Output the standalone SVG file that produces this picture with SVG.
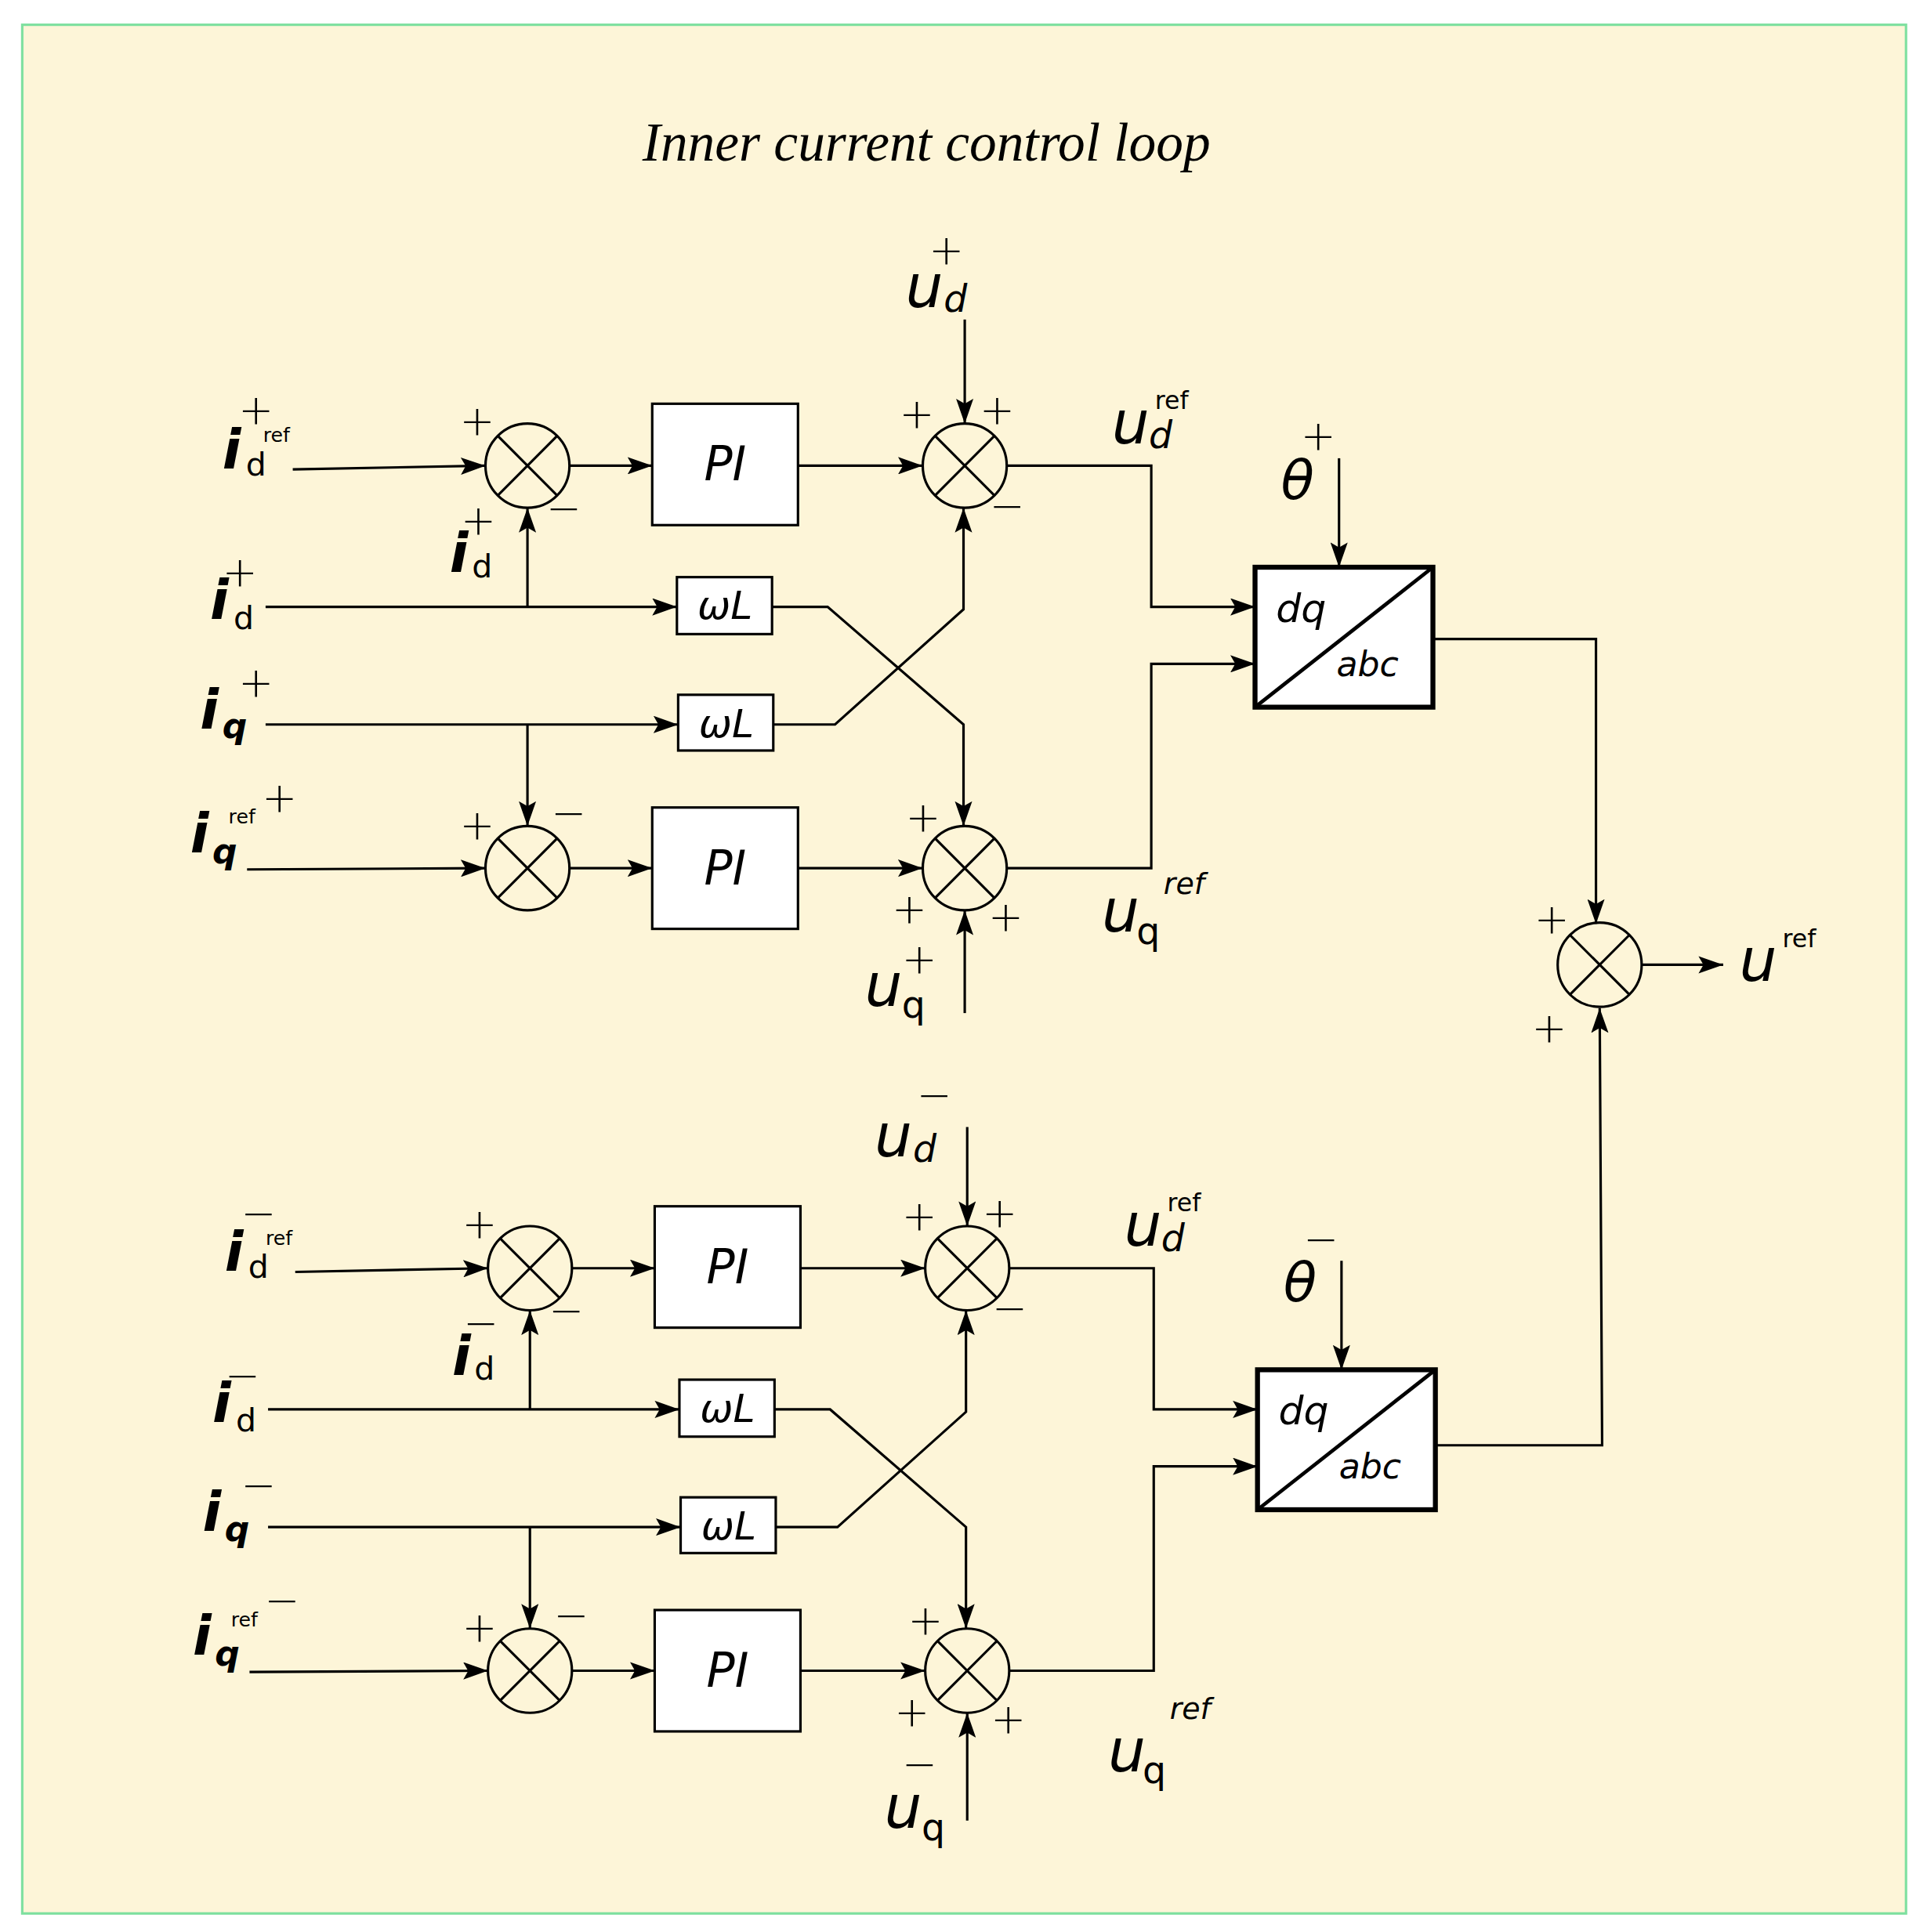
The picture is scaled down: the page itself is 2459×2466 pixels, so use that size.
<svg xmlns="http://www.w3.org/2000/svg" width="2459" height="2466" viewBox="0 0 2459 2466">
<style>
.w{fill:none;stroke:#000;stroke-width:2}
.b{fill:#fff;stroke:#000;stroke-width:2}
.t{font-family:"DejaVu Sans",sans-serif;fill:#000}
.i{font-style:italic}
.s{font-family:"DejaVu Sans",sans-serif;font-size:34px;font-weight:200;fill:#000}
</style>
<defs>
<marker id="A" markerWidth="20" markerHeight="14" refX="20" refY="7" orient="auto" markerUnits="userSpaceOnUse"><path d="M0,0L20,7L0,14L4,7z" fill="#000"/></marker>
<symbol id="sum" viewBox="-36 -36 72 72" width="72" height="72" overflow="visible"><circle r="34" fill="none" stroke="#000" stroke-width="2"/><path d="M-24,-24L24,24M24,-24L-24,24" stroke="#000" stroke-width="2"/></symbol>
</defs>
<g transform="scale(1.5763,1.5808)">
<rect x="18" y="20" width="1525" height="1525" fill="#fdf5d8" stroke="#7fe0a0" stroke-width="2"/>
<text x="750" y="130" text-anchor="middle" font-family="Liberation Serif,serif" font-style="italic" font-size="44">Inner current control loop</text>

<g id="connectors" class="w">
<g id="top">
<path d="M237,379L393,376" marker-end="url(#A)"/>
<path d="M461,376H528" marker-end="url(#A)"/>
<path d="M646,376H747" marker-end="url(#A)"/>
<path d="M781,258V342" marker-end="url(#A)"/>
<path d="M815,376H932V490H1016" marker-end="url(#A)"/>
<path d="M215,490H548" marker-end="url(#A)"/>
<path d="M427,490V410" marker-end="url(#A)"/>
<path d="M625,490H670L780,585V667" marker-end="url(#A)"/>
<path d="M215,585H549" marker-end="url(#A)"/>
<path d="M427,585V667" marker-end="url(#A)"/>
<path d="M626,585H676L780,492V410" marker-end="url(#A)"/>
<path d="M200,702L393,701" marker-end="url(#A)"/>
<path d="M461,701H528" marker-end="url(#A)"/>
<path d="M646,701H747" marker-end="url(#A)"/>
<path d="M781,818V735" marker-end="url(#A)"/>
<path d="M815,701H932V536H1016" marker-end="url(#A)"/>
<path d="M1084,370V458" marker-end="url(#A)"/>
</g>
<g id="bottom" transform="translate(2,648)">
<path d="M237,379L393,376" marker-end="url(#A)"/>
<path d="M461,376H528" marker-end="url(#A)"/>
<path d="M646,376H747" marker-end="url(#A)"/>
<path d="M781,262V342" marker-end="url(#A)"/>
<path d="M815,376H932V490H1016" marker-end="url(#A)"/>
<path d="M215,490H548" marker-end="url(#A)"/>
<path d="M427,490V410" marker-end="url(#A)"/>
<path d="M625,490H670L780,585V667" marker-end="url(#A)"/>
<path d="M215,585H549" marker-end="url(#A)"/>
<path d="M427,585V667" marker-end="url(#A)"/>
<path d="M626,585H676L780,492V410" marker-end="url(#A)"/>
<path d="M200,702L393,701" marker-end="url(#A)"/>
<path d="M461,701H528" marker-end="url(#A)"/>
<path d="M646,701H747" marker-end="url(#A)"/>
<path d="M781,822V735" marker-end="url(#A)"/>
<path d="M815,701H932V536H1016" marker-end="url(#A)"/>
<path d="M1084,370V458" marker-end="url(#A)"/>
</g>
<path d="M1160,516H1292V746" marker-end="url(#A)"/>
<path d="M1162,1167H1297L1295,814" marker-end="url(#A)"/>
<path d="M1329,779H1395" marker-end="url(#A)"/>
</g>

<g id="nodesTop">
<use href="#sum" x="391" y="340"/><use href="#sum" x="745" y="340"/>
<use href="#sum" x="391" y="665"/><use href="#sum" x="745" y="665"/>
<g id="pi1"><rect class="b" x="528" y="326" width="118" height="98"/><text class="t i" x="587" y="388" font-size="38" text-anchor="middle">PI</text></g>
<g id="pi2"><rect class="b" x="528" y="652" width="118" height="98"/><text class="t i" x="587" y="714" font-size="38" text-anchor="middle">PI</text></g>
<g id="wl1"><rect class="b" x="548" y="466" width="77" height="46"/><text class="t i" x="587" y="500" font-size="32" text-anchor="middle">ωL</text></g>
<g id="wl2"><rect class="b" x="549" y="561" width="77" height="45"/><text class="t i" x="588" y="595" font-size="32" text-anchor="middle">ωL</text></g>
<g id="dq1"><rect x="1016" y="458" width="144" height="113" fill="#fff" stroke="#000" stroke-width="4"/><path d="M1016,571L1160,458" stroke="#000" stroke-width="3"/><text class="t i" x="1033" y="502" font-size="32">dq</text><text class="t i" x="1082" y="546" font-size="28">abc</text></g>
</g>
<g id="nodesBottom" transform="translate(2,648)">
<use href="#sum" x="391" y="340"/><use href="#sum" x="745" y="340"/>
<use href="#sum" x="391" y="665"/><use href="#sum" x="745" y="665"/>
<g id="pi3"><rect class="b" x="528" y="326" width="118" height="98"/><text class="t i" x="587" y="388" font-size="38" text-anchor="middle">PI</text></g>
<g id="pi4"><rect class="b" x="528" y="652" width="118" height="98"/><text class="t i" x="587" y="714" font-size="38" text-anchor="middle">PI</text></g>
<g id="wl3"><rect class="b" x="548" y="466" width="77" height="46"/><text class="t i" x="587" y="500" font-size="32" text-anchor="middle">ωL</text></g>
<g id="wl4"><rect class="b" x="549" y="561" width="77" height="45"/><text class="t i" x="588" y="595" font-size="32" text-anchor="middle">ωL</text></g>
<g id="dq2"><rect x="1016" y="458" width="144" height="113" fill="#fff" stroke="#000" stroke-width="4"/><path d="M1016,571L1160,458" stroke="#000" stroke-width="3"/><text class="t i" x="1033" y="502" font-size="32">dq</text><text class="t i" x="1082" y="546" font-size="28">abc</text></g>
</g>
<use id="sumOut" href="#sum" x="1259" y="743"/>

<g id="labelsTop">
<text class="t i" x="180" y="378" font-size="44" font-weight="bold">i</text><text class="t" x="199" y="384" font-size="26">d</text><text class="t" x="213" y="357" font-size="16">ref</text><text class="s" x="193" y="343">+</text>
<text class="t i" x="364" y="462" font-size="44" font-weight="bold">i</text><text class="t" x="382" y="466" font-size="26">d</text><text class="s" x="373" y="432">+</text>
<text class="t i" x="170" y="500" font-size="44" font-weight="bold">i</text><text class="t" x="189" y="508" font-size="26">d</text><text class="s" x="180" y="474">+</text>
<text class="t i" x="162" y="588" font-size="44" font-weight="bold">i</text><text class="t i" x="180" y="596" font-size="28" font-weight="bold">q</text><text class="s" x="193" y="563">+</text>
<text class="t i" x="154" y="688" font-size="44" font-weight="bold">i</text><text class="t i" x="172" y="697" font-size="28" font-weight="bold">q</text><text class="t" x="185" y="665" font-size="16">ref</text><text class="s" x="212" y="656">+</text>
<text class="t i" x="733" y="248" font-size="48">u</text><text class="t i" x="764" y="252" font-size="30">d</text><text class="s" x="752" y="214">+</text>
<text class="t i" x="900" y="358" font-size="48">u</text><text class="t i" x="930" y="362" font-size="30">d</text><text class="t" x="935" y="330" font-size="20">ref</text>
<text class="t i" x="892" y="752" font-size="48">u</text><text class="t" x="920" y="762" font-size="30">q</text><text class="t i" x="942" y="722" font-size="24">ref</text>
<text class="t i" x="700" y="812" font-size="48">u</text><text class="t" x="730" y="822" font-size="30">q</text><text class="s" x="730" y="786">+</text>
<text class="t i" x="1037" y="403" font-size="44">θ</text><text class="s" x="1053" y="364">+</text>
<text class="s" x="372" y="352">+</text><text class="s" x="442" y="422">−</text>
<text class="s" x="728" y="346">+</text><text class="s" x="793" y="343">+</text><text class="s" x="801" y="420">−</text>
<text class="s" x="372" y="678">+</text><text class="s" x="446" y="668">−</text>
<text class="s" x="733" y="672">+</text><text class="s" x="722" y="746">+</text><text class="s" x="800" y="752">+</text>
</g>
<g id="labelsBottom" transform="translate(2,648)">
<text class="t i" x="180" y="378" font-size="44" font-weight="bold">i</text><text class="t" x="199" y="384" font-size="26">d</text><text class="t" x="213" y="357" font-size="16">ref</text><text class="s" x="193" y="343">−</text>
<text class="t i" x="364" y="462" font-size="44" font-weight="bold">i</text><text class="t" x="382" y="466" font-size="26">d</text><text class="s" x="373" y="432">−</text>
<text class="t i" x="170" y="500" font-size="44" font-weight="bold">i</text><text class="t" x="189" y="508" font-size="26">d</text><text class="s" x="180" y="474">−</text>
<text class="t i" x="162" y="588" font-size="44" font-weight="bold">i</text><text class="t i" x="180" y="596" font-size="28" font-weight="bold">q</text><text class="s" x="193" y="563">−</text>
<text class="t i" x="154" y="688" font-size="44" font-weight="bold">i</text><text class="t i" x="172" y="697" font-size="28" font-weight="bold">q</text><text class="t" x="185" y="665" font-size="16">ref</text><text class="s" x="212" y="656">−</text>
<text class="t i" x="706" y="286" font-size="48">u</text><text class="t i" x="737" y="290" font-size="30">d</text><text class="s" x="740" y="248">−</text>
<text class="t i" x="908" y="358" font-size="48">u</text><text class="t i" x="938" y="362" font-size="30">d</text><text class="t" x="943" y="330" font-size="20">ref</text>
<text class="t i" x="895" y="782" font-size="48">u</text><text class="t" x="923" y="792" font-size="30">q</text><text class="t i" x="945" y="740" font-size="24">ref</text>
<text class="t i" x="714" y="828" font-size="48">u</text><text class="t" x="744" y="838" font-size="30">q</text><text class="s" x="728" y="788">−</text>
<text class="t i" x="1037" y="403" font-size="44">θ</text><text class="s" x="1053" y="364">−</text>
<text class="s" x="372" y="352">+</text><text class="s" x="442" y="422">−</text>
<text class="s" x="728" y="346">+</text><text class="s" x="793" y="343">+</text><text class="s" x="801" y="420">−</text>
<text class="s" x="372" y="678">+</text><text class="s" x="446" y="668">−</text>
<text class="s" x="733" y="672">+</text><text class="s" x="722" y="746">+</text><text class="s" x="800" y="752">+</text>
</g>
<g id="labelsOut">
<text class="s" x="1242" y="754">+</text><text class="s" x="1240" y="842">+</text>
<text class="t i" x="1408" y="792" font-size="48">u</text><text class="t" x="1443" y="765" font-size="20">ref</text>
</g>
</g>
</svg>
